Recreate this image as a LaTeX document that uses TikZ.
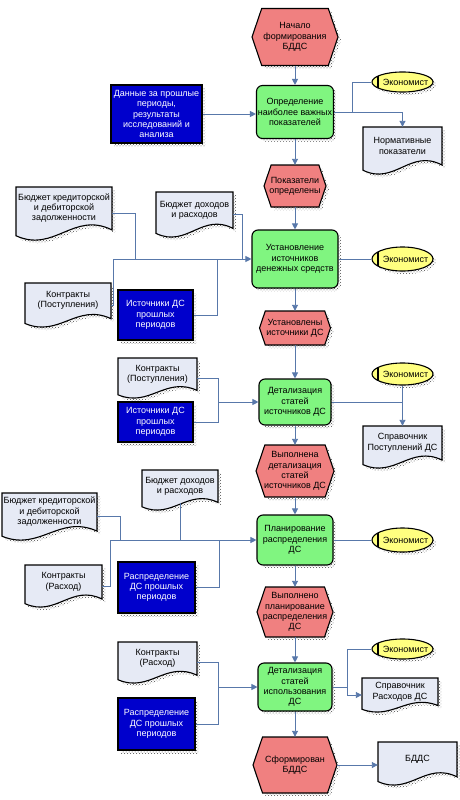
\documentclass[tikz,border=0pt]{standalone}
\usepackage{fontspec}
\setmainfont{Liberation Sans}
\usetikzlibrary{arrows.meta,patterns,calc,shapes.geometric}
\definecolor{hexred}{RGB}{240,128,128}
\definecolor{grn}{RGB}{128,245,128}
\definecolor{blu}{RGB}{0,0,204}
\definecolor{docc}{RGB}{230,234,245}
\definecolor{yel}{RGB}{255,255,128}
\definecolor{connc}{RGB}{88,120,170}
\tikzset{
  shad/.style={pattern=crosshatch dots, pattern color=black!70},
  greenshad/.style={shad, rounded corners=6pt},
  blueshad/.style={shad},
  outl/.style={draw=black, line width=1.1pt},
  conn/.style={draw=connc, line width=0.9pt},
  arr/.style={conn, -{Triangle[width=6pt,length=6pt]}},
  txt/.style={font=\fontsize{9}{10.3}\selectfont, align=center, inner sep=0pt},
  greenbox/.style={txt, outl, fill=grn, rounded corners=6pt},
  bluebox/.style={txt, outl, fill=blu, text=white},
  ellnode/.style={ellipse, inner sep=0pt, outl, fill=yel,
    path picture={\draw[line width=1.1pt] ([xshift=6pt]path picture bounding box.north west) -- ([xshift=6pt]path picture bounding box.south west);}},
}
% hexagon: name, cx, cy, w, h, text
\newcommand\hexN[6]{%
  \pgfmathsetmacro\hxd{0.17*#5}%
  \fill[shad] ({#2-#4/2+3},{#3+3}) -- ({#2-#4/2+\hxd+3},{#3-#5/2+3}) -- ({#2+#4/2-\hxd+3},{#3-#5/2+3}) -- ({#2+#4/2+3},{#3+3}) -- ({#2+#4/2-\hxd+3},{#3+#5/2+3}) -- ({#2-#4/2+\hxd+3},{#3+#5/2+3}) -- cycle;
  \filldraw[outl, fill=hexred] ({#2-#4/2},{#3}) -- ({#2-#4/2+\hxd},{#3-#5/2}) -- ({#2+#4/2-\hxd},{#3-#5/2}) -- ({#2+#4/2},{#3}) -- ({#2+#4/2-\hxd},{#3+#5/2}) -- ({#2-#4/2+\hxd},{#3+#5/2}) -- cycle;
  \node[txt, minimum width=#4pt, minimum height=#5pt] (#1) at (#2,#3) {#6};
}
% document: name, L, T, w, h, text
\newcommand\docN[6]{%
  \fill[shad] ({#2+3},{#3+3}) -- ({#2+#4+3},{#3+3}) -- ({#2+#4+3},{#3+0.81*#5+3}) .. controls ({#2+0.6*#4+3},{#3+0.45*#5+3}) and ({#2+0.4*#4+3},{#3+1.25*#5+3}) .. ({#2+3},{#3+0.92*#5+3}) -- cycle;
  \filldraw[outl, fill=docc] (#2,#3) -- ({#2+#4},#3) -- ({#2+#4},{#3+0.81*#5}) .. controls ({#2+0.6*#4},{#3+0.45*#5}) and ({#2+0.4*#4},{#3+1.25*#5}) .. (#2,{#3+0.92*#5}) -- cycle;
  \node[inner sep=0pt, minimum width=#4pt, minimum height=#5pt] (#1) at ({#2+#4/2},{#3+#5/2}) {};
  \node[txt] (#1t) at ({#2+#4/2},{#3+0.4*#5}) {#6};
}
% box: name, cx, cy, w, h, kind (green/blue), text
\newcommand\boxN[7]{%
  \fill[#6shad] ({#2-#4/2+3},{#3-#5/2+3}) rectangle ({#2+#4/2+3},{#3+#5/2+3});
  \node[#6box, minimum width=#4pt, minimum height=#5pt] (#1) at (#2,#3) {#7};
}
% ellipse: name, cx, cy, w, h
\newcommand\ellN[5]{%
  \fill[shad] ({#2+3},{#3+3}) ellipse [x radius=#4/2, y radius=#5/2];
  \node[ellnode, minimum width=#4pt, minimum height=#5pt] (#1) at (#2,#3) {};
  \node[txt] (#1t) at ({#2+3},#3) {Экономист};
}
\begin{document}
\begin{tikzpicture}[x=1pt,y=-1pt]
\fill[white] (0,0) rectangle (460,800);
\useasboundingbox (0,0) rectangle (460,800);

% row 1
\hexN{H1}{295}{37}{86}{57}{Начало\\формирования\\БДДС}
\boxN{B1}{156.5}{114}{91}{58}{blue}{Данные за прошлые\\периоды,\\результаты\\исследований и\\анализа}
\boxN{G1}{295}{112}{77}{53}{green}{Определение\\наиболее важных\\показателей}
\ellN{E1}{402.5}{82}{61}{20}
\docN{D1}{363}{127}{79}{47}{Нормативные\\показатели}

% row 2
\hexN{H2}{295}{186}{62}{42}{Показатели\\определены}
\docN{D2}{16}{187}{96}{53}{Бюджет кредиторской\\и дебиторской\\задолженности}
\docN{D3}{156}{192}{77}{45}{Бюджет доходов\\и расходов}
\boxN{G2}{295}{259}{86}{58}{green}{Установление\\источников\\денежных средств}
\ellN{E2}{402.5}{259}{61}{24}
\docN{D4}{25}{283}{86}{44}{Контракты\\(Поступления)}
\boxN{B2}{155.5}{315}{75}{50}{blue}{Источники ДС\\прошлых\\периодов}

% row 3
\hexN{H3}{295}{328}{71}{34}{Установлены\\источники ДС}
\docN{D5}{118}{358}{79}{40}{Контракты\\(Поступления)}
\boxN{B3}{155.5}{422}{75}{40}{blue}{Источники ДС\\прошлых\\периодов}
\boxN{G3}{295}{402}{72}{46}{green}{Детализация\\статей\\источников ДС}
\ellN{E3}{402.5}{374}{61}{22}
\docN{D6}{363}{426}{79}{42}{Справочник\\Поступлений ДС}

% row 4
\hexN{H4}{295}{471}{78}{52}{Выполнена\\детализация\\статей\\источников ДС}
\docN{D7}{142}{470}{76}{40}{Бюджет доходов\\и расходов}
\docN{D8}{2}{493}{95}{47}{Бюджет кредиторской\\и дебиторской\\задолженности}
\boxN{G4}{295}{540}{76}{50}{green}{Планирование\\распределения\\ДС}
\ellN{E4}{402.5}{540}{61}{24}
\docN{D9}{25}{565}{77}{42}{Контракты\\(Расход)}
\boxN{B4}{156.5}{587.5}{77}{51}{blue}{Распределение\\ДС прошлых\\периодов}

% row 5
\hexN{H5}{295}{612}{76}{50}{Выполнено\\планирование\\распределения\\ДС}
\docN{D10}{118}{642}{79}{41}{Контракты\\(Расход)}
\boxN{B5}{156.5}{724}{77}{52}{blue}{Распределение\\ДС прошлых\\периодов}
\boxN{G5}{295}{687}{74}{48}{green}{Детализация\\статей\\использования\\ДС}
\ellN{E5}{402.5}{649}{61}{20}
\docN{D11}{362}{678}{76}{34}{Справочник\\Расходов ДС}
\hexN{H6}{295}{765}{84}{56}{Сформирован\\БДДС}
\docN{D12}{378}{742}{79}{43}{БДДС}

% connectors: main column
\draw[arr] (H1.south) -- (G1.north);
\draw[arr] (G1.south) -- (H2.north);
\draw[arr] (H2.south) -- (G2.north);
\draw[arr] (G2.south) -- (H3.north);
\draw[arr] (H3.south) -- (G3.north);
\draw[arr] (G3.south) -- (H4.north);
\draw[arr] (H4.south) -- (G4.north);
\draw[arr] (G4.south) -- (H5.north);
\draw[arr] (H5.south) -- (G5.north);
\draw[arr] (G5.south) -- (H6.north);

% row 1
\draw[arr] (B1.east) -- (B1.east -| G1.west);
\coordinate (r1a) at (352,112);
\draw[conn] (G1.east) -- (r1a) |- (E1.west);
\draw[arr] (r1a) -| (D1.north);

% row 2
\coordinate (r2a) at (113,259);
\coordinate (r2b) at (135,259);
\coordinate (r2c) at (242,259);
\coordinate (r2d) at (217,259);
\draw[conn] (D4.east) -| (r2a);
\draw[conn] (D2.east) -| (r2b);
\draw[conn] (D3.east) -| (r2c);
\draw[conn] (B2.east) -| (r2d);
\draw[arr] (r2a) -- (G2.west);
\draw[conn] (G2.east) -- (E2.west);

% row 3
\coordinate (r3a) at (218,402);
\draw[conn] (D5.east) -| (r3a);
\draw[conn] (B3.east) -| (r3a);
\draw[arr] (r3a) -- (G3.west);
\draw[conn] (G3.east) -- (D6.north |- G3.east);
\draw[arr] (E3.south) -- (D6.north);

% row 4
\coordinate (r4a) at (110,540);
\coordinate (r4b) at (120,540);
\coordinate (r4c) at (219,540);
\draw[conn] (D9.east) -| (r4a);
\draw[conn] (D8.east) -| (r4b);
\draw[conn] ($(D7.south)+(0,-7)$) -- (D7.south |- G4.west);
\draw[conn] (B4.east) -| (r4c);
\draw[arr] (r4a) -- (G4.west);
\draw[conn] (G4.east) -- (E4.west);

% row 5
\coordinate (r5a) at (218,687);
\coordinate (r5b) at (347,687);
\draw[conn] (D10.east) -| (r5a);
\draw[conn] (B5.east) -| (r5a);
\draw[arr] (r5a) -- (G5.west);
\draw[conn] (G5.east) -- (r5b);
\draw[conn] (r5b) |- (E5.west);
\draw[arr] (r5b) |- (D11.west);
\draw[arr] (H6.east) -- (H6.east -| D12.west);
\end{tikzpicture}
\end{document}
